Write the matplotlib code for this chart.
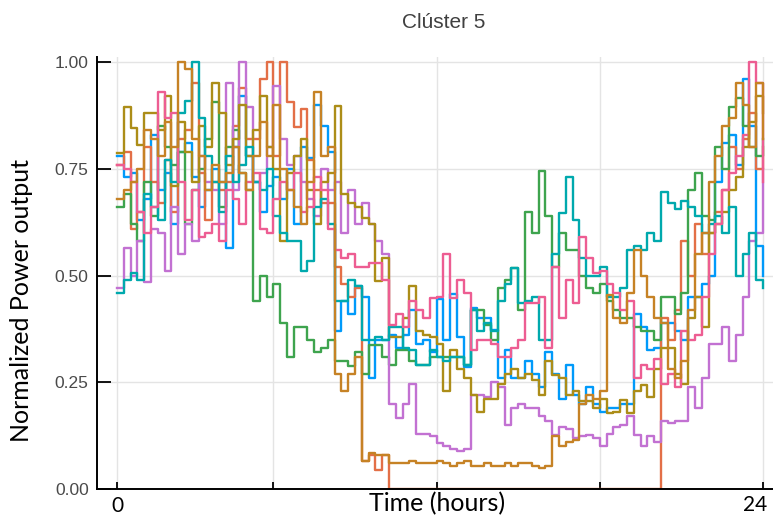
import numpy as np
import matplotlib
matplotlib.use("Agg")
import matplotlib.pyplot as plt

# Normalized power output for each 15-minute interval of the day (96 intervals)
interval = np.arange(1, 97)

blue = [.78, .73, .74, .63, .68, .83, .70, .74,
        .62, .79, .81, .73, .66, .70, .75, .72,
        .565, .80, .92, .78, .72, .65, .71, .73,
        .68, .75, .62, .80, .775, .90, .85, .79,
        .37, .44, .41, .475, .45, .26, .35, .35,
        .36, .33, .36, .42, .34, .35, .32, .446,
        .35, .457, .357, .286, .423, .40, .40, .373,
        .26, .326, .26, .26, .30, .27, .24, .32,
        .27, .21, .29, .22, .20, .24, .20, .18,
        .19, .19, .20, .20, .41, .38, .325, .33,
        .39, .39, .37, .35, .45, .45, .48, .50,
        .72, .81, .83, .76, .96, .85, .57, .50]

red = [.76, .79, .61, .65, .80, .72, .67, .77,
       .65, .82, .84, .95, .74, .63, .72, .70,
       .72, .85, .94, .82, .82, .96, 1.0, .78,
       1.0, .906, .848, .89, .77, .70, .67, .67,
       .52, .48, .45, .47, .065, .08, .045, .08,
       0, 0, 0, 0, 0, 0, 0, 0,
       0, 0, 0, 0, 0, 0, 0, 0,
       0, 0, 0, 0, 0, 0, 0, 0,
       0, 0, 0, 0, 0, 0, 0, 0,
       0, 0, 0, 0, 0, 0, 0, 0,
       .40, .35, .42, .58, .50, .62, .55, .60,
       .65, .70, .80, .75, .82, .88, .75, .80]

green = [.66, .69, .62, .58, .72, .64, .85, .80,
         .76, .79, .62, .70, .75, .82, .906, .66,
         .80, .84, .74, .70, .44, .50, .45, .48,
         .39, .31, .38, .38, .35, .32, .33, .35,
         .30, .30, .287, .32, .27, .337, .337, .31,
         .29, .326, .326, .30, .29, .29, .31, .31,
         .31, .31, .31, .29, .42, .42, .385, .35,
         .47, .49, .517, .42, .65, .60, .745, .64,
         .52, .60, .56, .56, .50, .47, .46, .48,
         .44, .42, .40, .40, .38, .37, .37, .35,
         .45, .45, .41, .46, .70, .74, .64, .63,
         .80, .75, .895, .915, .85, .80, .78, .82]

purple = [.47, .565, .50, .58, .485, .61, .60, .51,
          .66, .55, .62, .58, .78, .72, .70, .62,
          .95, .70, 1.0, .895, .72, .74, .80, .945,
          .82, .76, .78, .72, .68, .64, .75, .70,
          .72, .60, .70, .62, .67, .62, .58, .55,
          .20, .166, .20, .247, .13, .13, .125, .107,
          .10, .093, .09, .093, .22, .22, .215, .25,
          .24, .15, .19, .20, .19, .19, .17, .16,
          .127, .145, .14, .12, .125, .127, .12, .10,
          .13, .145, .15, .17, .127, .10, .125, .11,
          .16, .155, .16, .16, .24, .19, .26, .34,
          .34, .38, .30, .36, .45, .58, .60, .75]

olive = [.786, .895, .845, .806, .88, .88, .84, .92,
         .71, .86, .79, .72, .85, .80, .95, .88,
         .76, .82, .90, .78, .84, .92, .80, .75,
         .58, .74, .78, .82, .70, .62, .72, .74,
         .898, .69, .67, .66, .635, .62, .487, .54,
         .357, .357, .40, .475, .37, .36, .357, .34,
         .23, .326, .28, .26, .22, .18, .21, .21,
         .247, .27, .28, .26, .27, .255, .22, .30,
         .267, .26, .22, .23, .205, .205, .19, .21,
         .177, .18, .208, .177, .23, .243, .216, .28,
         .33, .33, .27, .247, .40, .45, .38, .60,
         .62, .65, .70, .73, .80, .86, .92, .88]

teal = [.46, .49, .505, .49, .69, .66, .63, .77,
        .72, .88, .91, 1.0, .87, .78, .72, .65,
        .78, .72, .76, .80, .72, .70, .75, .64,
        .60, .58, .58, .51, .535, .66, .68, .62,
        .44, .44, .49, .475, .35, .35, .357, .35,
        .38, .38, .33, .326, .29, .29, .326, .31,
        .30, .31, .31, .29, .42, .37, .39, .37,
        .44, .48, .517, .435, .44, .45, .35, .35,
        .55, .646, .73, .63, .54, .50, .50, .52,
        .45, .45, .47, .56, .57, .56, .60, .58,
        .695, .67, .656, .675, .66, .64, .60, .62,
        .64, .60, .66, .50, .55, .60, .49, .47]

pink = [.76, .75, .72, .65, .60, .66, .93, .87,
        .88, .72, .63, .70, .59, .60, .62, .58,
        .70, .68, .62, .72, .74, .61, .60, .68,
        .72, .70, .74, .65, .66, .73, .70, .61,
        .56, .54, .55, .52, .52, .53, .53, .49,
        .385, .41, .38, .44, .42, .40, .447, .45,
        .55, .447, .49, .46, .326, .35, .35, .34,
        .31, .31, .33, .35, .435, .435, .45, .33,
        .52, .40, .49, .435, .59, .54, .505, .51,
        .48, .46, .42, .44, .26, .29, .28, .305,
        .245, .27, .24, .37, .35, .36, .45, .55,
        .62, .70, .74, .78, .83, 1.0, .95, .72]

brown = [.68, .70, .72, .75, .84, .82, .78, .86,
         .80, 1.0, .985, .82, .78, .70, .76, .72,
         .74, .80, .74, .70, .78, .86, .78, .90,
         .75, .70, .66, .62, .72, .93, .78, .80,
         .27, .23, .27, .31, .066, .084, .08, .08,
         .06, .06, .06, .065, .06, .06, .062, .065,
         .06, .055, .06, .065, .055, .055, .06, .055,
         .055, .06, .055, .06, .06, .055, .05, .055,
         .125, .10, .11, .115, .20, .22, .21, .23,
         .455, .40, .39, .46, .56, .50, .45, .40,
         .39, .28, .26, .30, .42, .55, .60, .72,
         .78, .85, .87, .95, .90, .80, .95, .82]

series = [blue, red, green, purple, olive, teal, pink, brown]
colors = ["#009AFA", "#E36F47", "#3EA44E", "#C271D2",
          "#AC8D18", "#00A9AD", "#ED5D92", "#C68225"]

title = "Clúster 5"
xlabel = "Time (hours)"
ylabel = "Normalized Power output"
yticks = [0.0, 0.25, 0.50, 0.75, 1.00]
ytick_labels = ["0.00", "0.25", "0.50", "0.75", "1.00"]
xticks = [1, 24, 48, 72, 96]
xtick_labels = ["0", "", "", "", ""]
end_label = "24"

W, H = 773, 520
fig = plt.figure(figsize=(W / 100, H / 100), dpi=100)
# axes box in pixels: left, right, top, bottom (measured from the top edge)
left_px, right_px, top_px, bottom_px = 97, 776, 57, 489
ax = fig.add_axes([left_px / W, 1 - bottom_px / H,
                   (right_px - left_px) / W, (bottom_px - top_px) / H])

for vals, c in zip(series, colors):
    ax.step(interval, vals, where="post", color=c, lw=1.7)

# 6.8 px per interval, interval 1 sits 20 px right of the y axis
ax.set_xlim(1 - 20 / 6.8, 1 + (right_px - 117) / 6.8)
ax.set_ylim(0, 1.012)

ax.set_yticks(yticks)
ax.set_yticklabels(ytick_labels, family="Liberation Sans", fontsize=12.5,
                   color="#4a4a4a")
ax.set_xticks(xticks)
ax.set_xticklabels(xtick_labels, family="Lato", fontsize=15, color="black")
# end-of-day label, nudged left so it stays inside the canvas
ax.annotate(end_label, xy=(xticks[-1], 0), xycoords=("data", "axes fraction"),
            xytext=(-8, -6), textcoords="offset pixels", ha="center", va="top",
            family="Lato", fontsize=15, color="black", annotation_clip=False)

ax.tick_params(axis="y", direction="in", length=10, width=1.3, pad=6)
ax.tick_params(axis="x", direction="in", length=5, width=1.3, pad=5)

ax.grid(True, color="#e4e4e4", lw=1.0)
ax.set_axisbelow(True)

for s in ("top", "right"):
    ax.spines[s].set_visible(False)
for s in ("left", "bottom"):
    ax.spines[s].set_linewidth(1.4)
    ax.spines[s].set_color("black")

fig.text(444 / W, 1 - 23 / H, title, ha="center", va="center",
         family="Liberation Sans", fontsize=15, color="#404040")
fig.text(437 / W, 1 - 504 / H, xlabel, ha="center", va="center",
         family="Lato", fontsize=18, color="black")
fig.text(22 / W, 1 - 300 / H, ylabel, ha="center", va="center",
         rotation=90, family="Lato", fontsize=18, color="black")

fig.savefig("out.png", dpi=100)
